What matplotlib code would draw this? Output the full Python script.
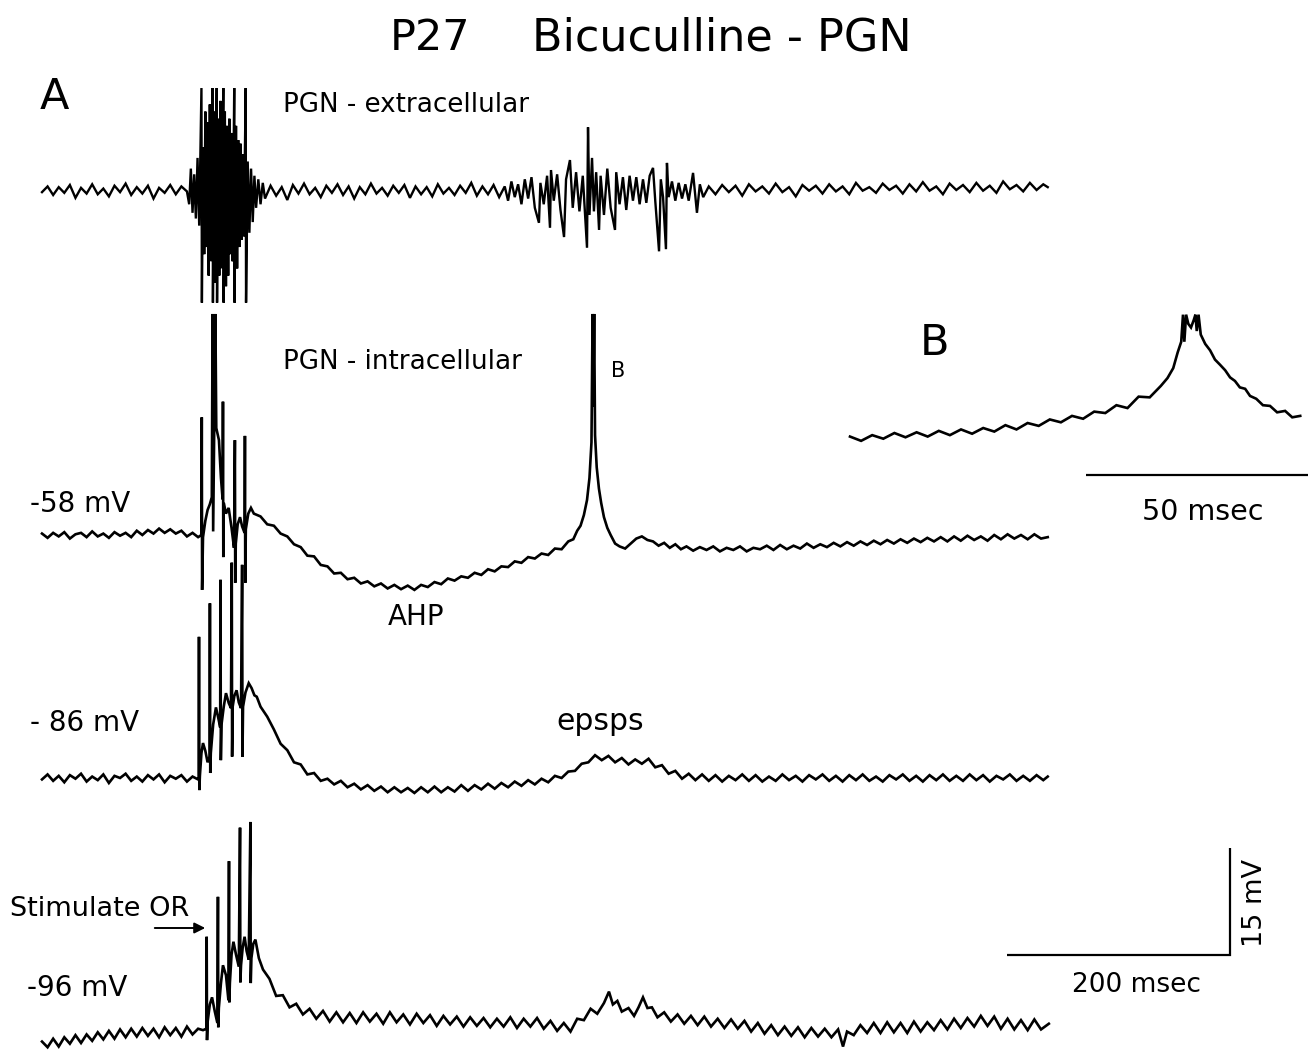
import matplotlib
matplotlib.use("Agg")
import matplotlib.pyplot as plt
import numpy as np

# ---------------- data (time in ms, voltage in mV relative to each trace's baseline) -------------
# Trace 1: PGN extracellular
extra_pre = [(0,-0.3),(5,0.5),(10,-0.7),(15,0.4),(20,-0.4),(25,0.7),(30,-1.1),(35,0.3),(40,-0.5),(45,0.8),
             (50,-0.6),(55,0.2),(60,-0.9),(65,0.6),(70,-0.3),(75,0.9),(80,-0.7),(85,0.4),(90,-0.5),(95,0.6),
             (100,-1.2),(105,0.3),(110,-0.4),(115,0.7),(120,-0.6),(125,0.5),(130,-0.2)]
extra_burst = [(132,-2.0),(133.5,3.0),(135,-3.2),(136.5,2.2),(138,-4.0),(139.5,4.5),(141,-5.0),(143.0,14.3),(143.4,-15.8),
               (144.5,6.0),(145.5,-9.0),(146.5,11.0),(147.5,-8.0),(148.5,9.5),(149.5,-12.0),(150.5,12.0),(151.5,-10.0),
               (153.0,14.3),(153.3,-15.8),(154.5,11.0),(155.5,-13.0),(156.7,14.3),(157.0,-15.8),(158.0,10.0),(159.0,-12.0),
               (160.0,12.5),(161.0,-11.0),(162.6,14.3),(162.9,-15.8),(164.0,11.0),(165.0,-13.5),(166.0,9.0),(167.0,-12.0),
               (168.0,10.0),(169.0,-9.0),(170.0,8.0),(171.0,-10.0),(172.4,14.3),(172.7,-15.8),(174.0,9.0),(175.0,-11.0),
               (176.0,7.0),(177.0,-8.0),(178.0,6.5),(179.0,-7.0),(180.0,5.0),(181.0,-6.5),(182.7,14.3),(183.0,-15.8),
               (184.5,4.0),(186.0,-6.0),(187.5,3.0),(189.0,-4.5),(190.5,2.0),(192.0,-2.5),(194.0,1.5),(196.0,-2.0),
               (198.0,1.0),(200.0,-1.2)]
extra_mid = [(205,0.6),(210,-0.8),(215,0.4),(220,-1.4),(225,0.7),(230,-0.5),(235,0.9),(240,-0.6),(245,0.3),(250,-1.0),
             (255,0.6),(260,-0.4),(265,0.8),(270,-0.7),(275,0.5),(280,-1.2),(285,0.4),(290,-0.6),(295,0.9),(300,-0.5),
             (305,0.3),(310,-0.8),(315,0.6),(320,-0.4),(325,0.7),(330,-1.1),(335,0.5),(340,-0.6),(345,0.4),(350,-0.9),
             (355,0.8),(360,-0.5),(365,0.3),(370,-0.7),(375,0.6),(380,-0.4),(385,1.0),(390,-0.8),(395,0.5),(400,-0.6),
             (405,0.7),(410,-1.0)]
extra_burst2 = [(415,0.5),(418,-1.5),(421,1.2),(424,-1.0),(427,0.8),(430,-2.0),(433,1.5),(436,-1.2),(439,1.8),(442,-2.5),
                (445.7,-4.6),(447,1.0),(450,-2.0),(453,2.0),(455.6,-5.3),(456.5,2.8),(459,-1.5),(462,2.2),(465,-2.8),
                (468.2,-6.6),(470,1.5),(473.5,4.2),(476,-2.5),(479,2.5),(482,-3.0),(485,2.0),(488.8,-8.1),(489.7,8.8),
                (491,-3.5),(493.3,4.5),(495,-3.0),(497,2.5),(499.6,-5.6),(501,2.0),(504,-3.5),(507,3.0),(510,-2.5),
                (513.9,-5.6),(515,2.5),(518,-2.0),(521,1.8),(524,-2.8),(527,2.0),(530,-1.5),(533,1.8),(536,-2.0),
                (539,1.5),(542,-1.8),(545,2.0),(548,3.1),(550,-1.5),(553.4,-8.6),(555,1.5),(557,-1.0),(559.6,-8.3),
                (560.5,3.8),(562,-1.0),(565,1.2),(568,-1.5),(571,1.0),(574,-1.2),(577,0.8),(580,-1.5),(583.9,2.4),
                (587.4,-3.2),(590,0.8),(593,-1.0)]
extra_post = [(598,0.5),(604,-0.6),(610,0.7),(616,-0.3),(622,0.6),(628,-0.8),(634,0.8),(640,-0.2),(646,0.5),(652,-0.5),
              (658,0.9),(664,-0.3),(670,0.4),(676,-0.9),(682,0.7),(688,-0.1),(694,0.6),(700,-0.5),(706,0.8),(712,-0.2),
              (718,0.5),(724,-0.6),(730,1.0),(736,-0.1),(742,0.4),(748,-0.4),(754,0.9),(760,0.0),(766,0.6),(772,-0.5),
              (778,0.8),(784,-0.2),(790,1.1),(796,-0.1),(802,0.5),(808,-0.6),(814,0.9),(820,0.0),(826,0.7),(832,-0.3),
              (838,1.0),(844,-0.1),(850,0.6),(856,-0.4),(862,1.2),(868,0.1),(874,0.7),(880,-0.2),(886,1.0),(892,0.0),
              (898,0.8),(902,0.4)]

# Trace 2: PGN intracellular, -58 mV
intra58_pre = [(0,0.2),(5,-0.4),(10,0.3),(15,-0.2),(20,0.4),(25,-0.5),(30,0.1),(35,0.3),(40,-0.3),(45,0.5),
               (50,-0.2),(55,0.2),(60,-0.4),(65,0.4),(70,-0.1),(75,0.3),(80,-0.3),(85,0.6),(90,0.0),(95,0.7),
               (100,0.2),(105,0.9),(110,0.3),(115,0.8),(120,0.2),(125,0.6),(130,-0.2),(135,0.3),(140,-0.3)]
intra58_burst = [(143.0,0.0),(143.3,16.5),(143.6,-7.7),(144.4,-0.3),(146.5,2.0),(148.5,3.5),(150.5,4.3),(152.3,5.3),
                 (153.0,31.0),(153.5,0.5),(155.5,31.0),(156.3,15.0),(158.7,13.3),(160.5,8.0),(162.0,5.0),(162.3,18.7),
                 (162.6,-3.1),(163.0,4.5),(165.0,3.0),(167.4,3.8),(170.0,1.0),(172.2,-1.8),(173.0,13.3),(173.3,-6.7),
                 (173.8,-1.2),(175.5,1.5),(177.6,2.5),(179.5,1.2),(181.7,0.3),(182.0,13.9),(182.3,-6.7),(182.8,0.8),
                 (185.0,3.0),(187.4,3.8)]
intra58_ahp = [(190,3.0),(196,2.6),(202,1.5),(208,1.3),(214,0.2),(220,-0.2),(226,-1.3),(232,-1.7),(238,-2.9),(244,-3.0),
               (250,-4.2),(256,-4.4),(262,-5.4),(268,-5.3),(274,-6.2),(280,-6.0),(286,-6.8),(292,-6.5),(298,-7.2),(304,-6.8),
               (310,-7.5),(316,-7.0),(322,-7.6),(328,-7.1),(334,-7.7),(340,-7.0),(346,-7.3),(352,-6.6),(358,-6.9),(364,-6.1),
               (370,-6.4),(376,-5.8),(382,-6.0),(388,-5.3),(394,-5.6),(400,-4.8),(406,-5.1),(412,-4.4),(418,-4.5),(424,-3.7),
               (430,-3.9),(436,-3.1),(442,-3.3),(448,-2.6),(454,-2.8),(460,-1.9),(466,-2.0),(472,-0.9)]
intra58_spike = [(476.5,-0.6),(480,0.6),(483,1.3),(486,2.8),(488.8,4.9),(491.0,8.0),(492.8,13.0),(493.8,31.0),(494.4,18.0),
                 (495.2,31.0),(496.0,14.0),(497.5,9.5),(499.5,6.5),(501.5,4.5),(504,2.5),(507,1.0),(510,0.0),(514,-1.2),
                 (518,-1.6),(523,-1.9),(528,-1.2),(533,-0.5),(538,-0.2),(543,-0.7),(548,-0.9),(553,-1.5),(558,-1.1),
                 (563,-1.8),(568,-1.3),(573,-2.0),(578,-1.6),(584,-2.2),(590,-1.7)]
intra58_post = [(596,-2.1),(602,-1.6),(608,-2.3),(614,-1.8),(620,-2.1),(626,-1.6),(632,-2.3),(638,-1.8),(644,-2.0),(650,-1.5),
                (656,-2.1),(662,-1.4),(668,-2.0),(674,-1.5),(680,-1.9),(686,-1.2),(692,-1.8),(698,-1.3),(704,-1.7),(710,-1.1),
                (716,-1.6),(722,-1.0),(728,-1.5),(734,-0.9),(740,-1.4),(746,-0.8),(752,-1.3),(758,-0.7),(764,-1.2),(770,-0.6),
                (776,-1.1),(782,-0.5),(788,-1.0),(794,-0.4),(800,-0.9),(806,-0.3),(812,-0.9),(818,-0.2),(824,-0.8),(830,-0.1),
                (836,-0.7),(842,-0.2),(848,-0.8),(854,0.0),(860,-0.6),(866,0.1),(872,-0.5),(878,0.0),(884,-0.6),(890,0.1),
                (896,-0.5),(902,-0.3)]

# Trace 3: -86 mV
intra86_pre = [(0,-0.2),(5,0.5),(10,-0.4),(15,0.3),(20,-0.6),(25,0.4),(30,-0.1),(35,0.6),(40,-0.5),(45,0.2),
               (50,-0.3),(55,0.5),(60,-0.7),(65,0.3),(70,0.0),(75,0.6),(80,-0.4),(85,0.2),(90,-0.5),(95,0.4),
               (100,-0.2),(105,0.5),(110,-0.6),(115,0.3),(120,-0.1),(125,0.4),(130,-0.5),(135,0.2),(140,-0.2)]
intra86_burst = [(140.5,0.0),(140.8,19.8),(141.1,-1.7),(141.6,0.3),(143.0,3.5),(144.4,4.9),(146.5,3.8),(148.5,2.2),
                 (150.3,3.0),(150.6,24.5),(150.9,0.7),(151.4,3.5),(153.5,7.5),(156.0,9.9),(158.0,8.5),(159.8,7.1),
                 (160.1,27.8),(160.4,2.5),(161.0,7.5),(163.0,10.0),(165.0,11.9),(167.5,10.5),(169.5,9.8),(170.2,30.2),
                 (170.5,3.0),(171.0,10.0),(172.5,11.5),(174.5,12.3),(176.5,10.6),(178.5,9.8),(179.5,29.9),(179.8,3.0),
                 (180.3,10.0),(182.5,12.0),(185.4,13.3),(188.0,12.6),(190.5,11.6),(192.6,11.4)]
intra86_post = [(196,10.0),(202,8.6),(208,6.8),(214,4.8),(220,3.9),(226,2.2),(232,1.9),(238,0.5),(244,0.7),(250,-0.4),
                (256,-0.1),(262,-0.9),(268,-0.4),(274,-1.3),(280,-0.8),(286,-1.6),(292,-1.0),(298,-1.8),(304,-1.2),(310,-2.0),
                (316,-1.3),(322,-2.0),(328,-1.4),(334,-2.1),(340,-1.3),(346,-2.0),(352,-1.2),(358,-2.0),(364,-1.3),(370,-1.9),
                (376,-1.0),(382,-1.8),(388,-1.0),(394,-1.6),(400,-0.8),(406,-1.5),(412,-0.7),(418,-1.3),(424,-0.5),(430,-1.1),
                (436,-0.3),(442,-0.9),(448,-0.1),(454,-0.6),(460,0.3),(466,0.0),(472,0.9),(478,1.0),(484,2.0),(490,2.2),
                (496,3.2),(502,2.5),(508,3.1),(514,2.2),(520,2.8),(526,1.9),(532,2.6),(538,2.0),(544,2.7),(550,1.5),
                (556,1.8),(562,0.6),(568,1.0),(574,-0.1),(580,0.6),(586,-0.3),(592,0.5),(598,-0.4),(604,0.4),(610,-0.5),
                (616,0.3),(622,-0.3),(628,0.5),(634,-0.4),(640,0.4),(646,-0.5),(652,0.2),(658,-0.4),(664,0.5),(670,-0.3),
                (676,0.3),(682,-0.5),(688,0.4),(694,-0.2),(700,0.5),(706,-0.4),(712,0.3),(718,-0.5),(724,0.4),(730,-0.3),
                (736,0.5),(742,-0.4),(748,0.2),(754,-0.5),(760,0.4),(766,-0.2),(772,0.5),(778,-0.4),(784,0.3),(790,-0.5),
                (796,0.4),(802,-0.3),(808,0.5),(814,-0.4),(820,0.3),(826,-0.4),(832,0.5),(838,-0.3),(844,0.4),(850,-0.5),
                (856,0.3),(862,-0.2),(868,0.5),(874,-0.4),(880,0.3),(886,-0.4),(892,0.4),(898,-0.3),(902,0.2)]

# Trace 4: -96 mV
intra96_pre = [(0,-1.2),(5,-2.0),(10,-0.8),(15,-1.9),(20,-0.6),(25,-1.5),(30,-0.3),(35,-1.4),(40,-0.2),(45,-1.1),
               (50,0.1),(55,-0.9),(60,0.3),(65,-0.8),(70,0.5),(75,-0.6),(80,0.6),(85,-0.5),(90,0.7),(95,-0.4),
               (100,0.6),(105,-0.6),(110,0.8),(115,-0.3),(120,0.7),(125,-0.5),(130,0.9),(135,-0.2),(140,0.6)]
intra96_burst = [(144.4,0.4),(147.4,0.6),(147.7,13.5),(148.0,-1.0),(148.5,1.5),(150.5,4.0),(152.5,5.0),(155.0,3.0),
                 (157.3,1.4),(157.8,19.1),(158.1,0.8),(158.6,3.5),(160.5,7.0),(162.3,9.5),(165.0,8.1),(167.2,4.6),
                 (167.7,24.1),(168.0,4.3),(168.5,7.0),(170.0,11.0),(171.7,12.8),(174.0,11.0),(176.5,9.3),(177.6,28.8),
                 (177.9,7.1),(178.5,9.5),(180.0,12.0),(181.7,13.5),(183.5,11.5),(185.4,10.3),(186.9,29.6),(187.2,7.0),
                 (187.8,10.5),(189.5,12.5),(191.4,13.1),(194.5,10.5),(198.2,8.9)]
intra96_post = [(204,7.6),(210,5.2),(216,5.3),(222,3.6),(228,4.1),(234,2.6),(240,3.4),(246,2.0),(252,3.1),(258,1.6),
                (264,2.9),(270,1.5),(276,2.8),(282,1.4),(288,2.9),(294,1.6),(300,2.7),(306,1.3),(312,2.9),(318,1.5),
                (324,2.6),(330,1.2),(336,2.7),(342,1.4),(348,2.5),(354,1.0),(360,2.4),(366,1.2),(372,2.3),(378,0.9),
                (384,2.2),(390,1.0),(396,2.1),(402,0.8),(408,2.0),(414,0.9),(420,2.2),(426,0.7),(432,2.0),(438,0.9),
                (444,2.1),(450,0.6),(456,1.7),(462,0.3),(468,1.4),(474,0.2),(480,2.0),(486,1.8),(492,3.4),(498,2.7),
                (504,4.2),(508.5,5.8),(512,4.0),(516,4.5),(520,3.0),(526,3.5),(531,2.4),(535,3.6),(539,5.0),(543,3.5),
                (547,3.6),(552,2.2),(558,2.9),(564,1.6),(570,2.6),(576,1.3),(582,2.4),(588,1.1),(594,2.3),(600,0.9),
                (606,2.0),(612,0.7),(618,1.9),(624,0.6),(630,1.7),(636,0.2),(642,1.4),(648,-0.1),(654,1.1),(660,-0.3),
                (666,0.9),(672,-0.4),(678,0.8),(684,-0.6),(690,0.7),(696,-0.5),(702,0.6),(708,-0.6),(714,0.5),(718.4,-1.9),
                (722,0.2),(728,-0.3),(734,1.1),(740,0.0),(746,1.4),(752,0.0),(758,1.5),(764,0.1),(770,1.4),(776,0.0),
                (782,1.6),(788,0.2),(794,1.5),(800,0.4),(806,1.8),(812,0.5),(818,2.0),(824,0.7),(830,2.1),(836,0.9),
                (842,2.4),(848,1.0),(854,2.3),(860,0.6),(866,2.0),(872,0.5),(878,1.8),(884,0.4),(890,1.9),(896,0.5),
                (903,1.3)]

# Panel B: expanded spike (ms, mV)
inset_ramp = [(0,0.2),(2.5,-0.4),(5,0.4),(7.5,-0.1),(10,0.7),(12.5,0.1),(15,0.8),(17.5,0.2),(20,1.0),(22.5,0.4),
              (25,1.2),(27.5,0.6),(30,1.4),(32.5,0.9),(35,1.8),(37.5,1.2),(40,2.1),(42.5,1.7),(45,2.6),(47.5,2.2),
              (50,3.1),(52.5,2.7),(55,3.7),(57.5,3.5),(60,4.6),(62.5,4.2),(65,5.8),(67.5,5.7),(70,7.3)]
inset_spike = [(71.5,8.4),(72.8,9.8),(73.8,12.0),(74.6,13.5),(75.0,17.3),(75.3,13.5),(75.7,17.3),(76.2,16.0),(76.8,15.5),
               (77.4,16.5),(77.8,17.3),(78.1,15.0),(78.5,17.3),(79.0,14.5),(80.0,13.2),(81.1,12.3),(82.2,11.0),(83.3,10.3),
               (84.5,9.5),(85.6,8.5),(86.7,8.0),(87.8,7.1),(89.0,6.9),(90.1,5.9),(91.5,5.5),(93.0,4.6),(94.6,4.5),
               (96.2,3.6),(98.0,3.8),(99.6,2.9),(101.4,3.1)]

scale_ms = 200
scale_mv = 15
inset_scale_ms = 50

# ---------------- layout ----------------
W, H = 1312, 1051
PX_PER_MS = 1.115
PX_PER_MV = 7.13
INSET_PX_PER_MS = 4.44

fig = plt.figure(figsize=(W / 100, H / 100), dpi=100)
fig.patch.set_facecolor("white")

ax = fig.add_axes([0, 0, 1, 1])
ax.set_xlim(-42 / PX_PER_MS, (W - 42) / PX_PER_MS)
ax.set_ylim(0, H / PX_PER_MV)
ax.axis("off")

axb = fig.add_axes([0, 0, 1, 1])
axb.set_xlim(-850 / INSET_PX_PER_MS, (W - 850) / INSET_PX_PER_MS)
axb.set_ylim(0, H / PX_PER_MV)
axb.axis("off")
axb.patch.set_alpha(0)


def level(py):
    return (H - py) / PX_PER_MV


def draw(a, segments, base_py, lw=1.9):
    pts = [p for seg in segments for p in seg]
    t = np.array([p[0] for p in pts])
    v = np.array([p[1] for p in pts])
    a.plot(t, v + level(base_py), color="black", lw=lw, solid_joinstyle="miter")


draw(ax, [extra_pre, extra_burst, extra_mid, extra_burst2, extra_post], 190, lw=1.7)
draw(ax, [intra58_pre, intra58_burst, intra58_ahp, intra58_spike, intra58_post], 535)
draw(ax, [intra86_pre, intra86_burst, intra86_post], 778)
draw(ax, [intra96_pre, intra96_burst, intra96_post], 1033)
draw(axb, [inset_ramp, inset_spike], 438)

# scale bars
t0 = (1007 - 42) / PX_PER_MS
y0 = level(955)
ax.plot([t0, t0 + scale_ms, t0 + scale_ms], [y0, y0, y0 + scale_mv], color="black", lw=1.6,
        solid_joinstyle="miter", solid_capstyle="butt")
tb = (1086 - 850) / INSET_PX_PER_MS
axb.plot([tb, tb + inset_scale_ms], [level(475), level(475)], color="black", lw=1.6, solid_capstyle="butt")

# ---------------- text ----------------
FONT = "DejaVu Sans"


def label(px, py, s, size=19.5, ha="left", **kw):
    fig.text(px / W, 1 - py / H, s, fontsize=size, ha=ha, va="center", family=FONT, **kw)


label(390, 38, "P27", size=31)
label(912, 38, "Bicuculline - PGN", size=32, ha="right")
label(40, 97, "A", size=31)
label(283, 105, "PGN - extracellular", size=18.8)
label(283, 362, "PGN - intracellular", size=18.8)
label(611, 371, "B", size=15)
label(920, 343, "B", size=31)
label(30, 504, "-58 mV", size=20)
label(388, 617, "AHP", size=20)
label(30, 723, "- 86 mV", size=20)
label(556, 722, "epsps", size=21.5)
label(10, 909, "Stimulate OR", size=19.5)
label(27, 988, "-96 mV", size=20)
label(1203, 512, "50 msec", size=20.5, ha="center")
label(1136, 985, "200 msec", size=19, ha="center")
fig.text(1255 / W, 1 - 903 / H, "15 mV", fontsize=19.5, ha="center", va="center", rotation=90, family=FONT)

ax.annotate("", xy=(208 / W, 1 - 928 / H), xytext=(152 / W, 1 - 928 / H),
            xycoords="figure fraction", textcoords="figure fraction",
            arrowprops=dict(arrowstyle="-|>", color="black", lw=1.4, mutation_scale=16))

fig.savefig("out.png", dpi=100, facecolor="white")
